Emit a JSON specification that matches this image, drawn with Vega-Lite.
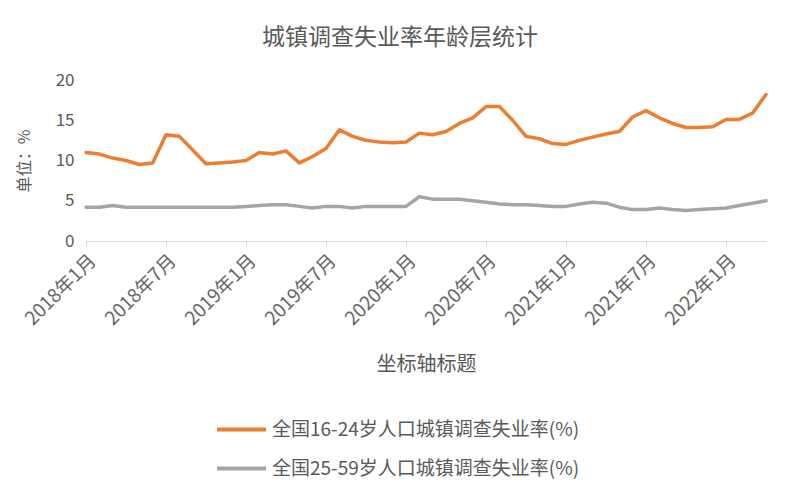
{
  "$schema": "https://vega.github.io/schema/vega-lite/v6.json",
  "width": 680,
  "height": 161,
  "autosize": {"type": "none"},
  "padding": {"left": 86, "top": 80, "right": 34, "bottom": 259},
  "background": "white",
  "config": {"font": "Noto Sans CJK SC", "view": {"stroke": null}},
  "title": {"text": "城镇调查失业率年龄层统计", "fontSize": 23, "fontWeight": "normal", "color": "#595959", "anchor": "middle", "frame": "group", "dx": -26, "offset": 21},
  "data": {"values": [
    {"m": "2018年1月", "a": 11.0, "b": 4.2},
    {"m": "2018年2月", "a": 10.8, "b": 4.2},
    {"m": "2018年3月", "a": 10.3, "b": 4.4},
    {"m": "2018年4月", "a": 10.0, "b": 4.2},
    {"m": "2018年5月", "a": 9.5, "b": 4.2},
    {"m": "2018年6月", "a": 9.7, "b": 4.2},
    {"m": "2018年7月", "a": 13.2, "b": 4.2},
    {"m": "2018年8月", "a": 13.0, "b": 4.2},
    {"m": "2018年9月", "a": 11.3, "b": 4.2},
    {"m": "2018年10月", "a": 9.6, "b": 4.2},
    {"m": "2018年11月", "a": 9.7, "b": 4.2},
    {"m": "2018年12月", "a": 9.8, "b": 4.2},
    {"m": "2019年1月", "a": 10.0, "b": 4.3},
    {"m": "2019年2月", "a": 11.0, "b": 4.4},
    {"m": "2019年3月", "a": 10.8, "b": 4.5},
    {"m": "2019年4月", "a": 11.2, "b": 4.5},
    {"m": "2019年5月", "a": 9.7, "b": 4.3},
    {"m": "2019年6月", "a": 10.5, "b": 4.1},
    {"m": "2019年7月", "a": 11.5, "b": 4.3},
    {"m": "2019年8月", "a": 13.8, "b": 4.3},
    {"m": "2019年9月", "a": 13.0, "b": 4.1},
    {"m": "2019年10月", "a": 12.5, "b": 4.3},
    {"m": "2019年11月", "a": 12.3, "b": 4.3},
    {"m": "2019年12月", "a": 12.2, "b": 4.3},
    {"m": "2020年1月", "a": 12.3, "b": 4.3},
    {"m": "2020年2月", "a": 13.4, "b": 5.5},
    {"m": "2020年3月", "a": 13.2, "b": 5.2},
    {"m": "2020年4月", "a": 13.6, "b": 5.2},
    {"m": "2020年5月", "a": 14.6, "b": 5.2},
    {"m": "2020年6月", "a": 15.3, "b": 5.0},
    {"m": "2020年7月", "a": 16.7, "b": 4.8},
    {"m": "2020年8月", "a": 16.7, "b": 4.6},
    {"m": "2020年9月", "a": 15.0, "b": 4.5},
    {"m": "2020年10月", "a": 13.0, "b": 4.5},
    {"m": "2020年11月", "a": 12.7, "b": 4.4},
    {"m": "2020年12月", "a": 12.1, "b": 4.3},
    {"m": "2021年1月", "a": 12.0, "b": 4.3},
    {"m": "2021年2月", "a": 12.5, "b": 4.6},
    {"m": "2021年3月", "a": 12.9, "b": 4.8},
    {"m": "2021年4月", "a": 13.3, "b": 4.7},
    {"m": "2021年5月", "a": 13.6, "b": 4.2},
    {"m": "2021年6月", "a": 15.4, "b": 3.9},
    {"m": "2021年7月", "a": 16.2, "b": 3.9},
    {"m": "2021年8月", "a": 15.3, "b": 4.1},
    {"m": "2021年9月", "a": 14.6, "b": 3.9},
    {"m": "2021年10月", "a": 14.1, "b": 3.8},
    {"m": "2021年11月", "a": 14.1, "b": 3.9},
    {"m": "2021年12月", "a": 14.2, "b": 4.0},
    {"m": "2022年1月", "a": 15.1, "b": 4.1},
    {"m": "2022年2月", "a": 15.1, "b": 4.4},
    {"m": "2022年3月", "a": 15.9, "b": 4.7},
    {"m": "2022年4月", "a": 18.2, "b": 5.0}
  ]},
  "transform": [{"fold": ["a", "b"], "as": ["series", "value"]}],
  "mark": {"type": "line", "strokeWidth": 3.5, "strokeJoin": "round", "strokeCap": "round"},
  "encoding": {
    "x": {
      "field": "m", "type": "ordinal", "sort": null,
      "scale": {"type": "point", "padding": 0},
      "axis": {
        "values": ["2018年1月", "2018年7月", "2019年1月", "2019年7月", "2020年1月", "2020年7月", "2021年1月", "2021年7月", "2022年1月"],
        "labelAngle": -45, "labelFontSize": 19, "labelColor": "#666666", "labelPadding": 5,
        "domainColor": "#D9D9D9", "domainWidth": 1, "tickColor": "#D9D9D9", "tickSize": 5,
        "title": "坐标轴标题", "titleFontSize": 20, "titleFontWeight": "normal", "titleColor": "#595959", "titlePadding": 26
      }
    },
    "y": {
      "field": "value", "type": "quantitative",
      "scale": {"domain": [0, 20]},
      "axis": {
        "values": [0, 5, 10, 15, 20], "grid": false, "domain": false, "ticks": false,
        "labelFontSize": 17, "labelColor": "#595959", "labelPadding": 12,
        "title": "单位：%", "titleFontSize": 16, "titleFontWeight": "normal", "titleColor": "#595959", "titlePadding": 23
      }
    },
    "color": {
      "field": "series", "type": "nominal",
      "scale": {"domain": ["a", "b"], "range": ["#ED7D31", "#A5A5A5"]},
      "legend": {
        "orient": "none", "legendX": 129, "legendY": 323, "direction": "vertical", "title": null,
        "symbolType": "stroke", "symbolStrokeWidth": 4, "symbolSize": 2400,
        "labelFontSize": 19, "labelColor": "#595959", "labelOffset": 4, "rowPadding": 2, "labelLimit": 500,
        "labelExpr": "datum.label == 'a' ? '全国16-24岁人口城镇调查失业率(%)' : '全国25-59岁人口城镇调查失业率(%)'"
      }
    }
  }
}
